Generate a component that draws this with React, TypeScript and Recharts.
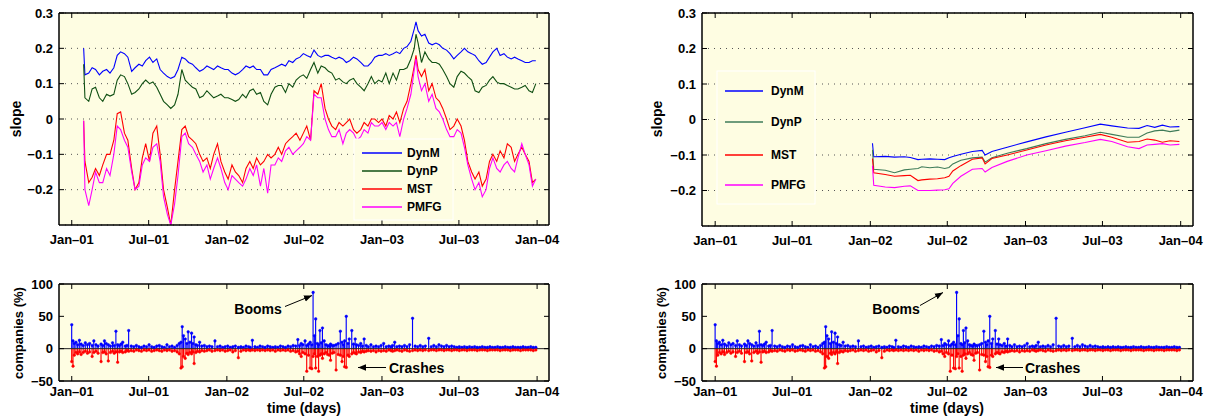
import React from "react";
import {
  ComposedChart,
  Line,
  Bar,
  XAxis,
  YAxis,
  CartesianGrid,
  ReferenceLine,
} from "recharts";

const FONT = "'Liberation Sans', Arial, Helvetica, sans-serif";
const BG = "#fefde2";
const BLUE = "#0000ff";
const RED = "#ff0000";
const MAGENTA = "#ff00ff";
const GREEN_L = "#0f4f12";
const GREEN_R = "#3e7b58";

// x axis is days since 1 Jan 2001
const monthTicks = [0, 181, 365, 546, 730, 911, 1095];
const monthLabels = ["Jan\u201301", "Jul\u201301", "Jan\u201302", "Jul\u201302", "Jan\u201303", "Jul\u201303", "Jan\u201304"];
const slopeTicks = [-0.2, -0.1, 0, 0.1, 0.2, 0.3];
const pctTicks = [-50, 0, 50, 100];
const seriesNames = ["DynM", "DynP", "MST", "PMFG"];

// top-left panel (sampled roughly every 8 days)
const slopeDays = [
  28, 31, 40, 48, 56, 65, 73, 82, 90, 99,
  107, 115, 124, 132, 141, 149, 158, 166, 174, 183,
  191, 200, 208, 216, 225, 233, 242, 250, 259, 267,
  275, 284, 292, 301, 309, 318, 326, 334, 343, 351,
  360, 368, 377, 385, 393, 402, 410, 419, 427, 435,
  444, 452, 461, 469, 478, 486, 494, 503, 511, 520,
  528, 537, 545, 553, 562, 570, 579, 587, 596, 604,
  612, 621, 629, 638, 646, 654, 663, 671, 680, 688,
  697, 705, 713, 722, 730, 739, 747, 756, 764, 772,
  781, 789, 798, 806, 810, 815, 823, 831, 840, 848,
  857, 865, 873, 882, 890, 899, 907, 916, 924, 932,
  941, 949, 958, 966, 975, 983, 991, 1000, 1008, 1017,
  1025, 1034, 1042, 1050, 1059, 1067, 1076, 1084, 1092,
];
const dynM = [
  0.2, 0.125, 0.13, 0.145, 0.14, 0.125, 0.135, 0.14, 0.13, 0.145,
  0.18, 0.19, 0.185, 0.175, 0.135, 0.145, 0.155, 0.15, 0.165, 0.175,
  0.16, 0.17, 0.14, 0.13, 0.12, 0.115, 0.12, 0.14, 0.175, 0.17,
  0.16, 0.155, 0.145, 0.135, 0.14, 0.15, 0.145, 0.14, 0.15, 0.145,
  0.14, 0.14, 0.13, 0.125, 0.13, 0.14, 0.15, 0.145, 0.15, 0.14,
  0.14, 0.125, 0.125, 0.14, 0.145, 0.15, 0.155, 0.15, 0.165, 0.16,
  0.17, 0.175, 0.185, 0.18, 0.175, 0.195, 0.18, 0.175, 0.18, 0.18,
  0.175, 0.17, 0.175, 0.17, 0.16, 0.165, 0.175, 0.17, 0.16, 0.15,
  0.15, 0.16, 0.175, 0.18, 0.18, 0.185, 0.18, 0.185, 0.19, 0.185,
  0.2, 0.205, 0.22, 0.255, 0.275, 0.25, 0.235, 0.24, 0.215, 0.21,
  0.215, 0.21, 0.2, 0.195, 0.185, 0.17, 0.18, 0.19, 0.2, 0.19,
  0.185, 0.18, 0.165, 0.155, 0.16, 0.175, 0.19, 0.2, 0.18, 0.185,
  0.175, 0.17, 0.175, 0.17, 0.165, 0.16, 0.16, 0.165, 0.165,
];
const dynP = [
  0.155, 0.06, 0.05, 0.085, 0.09, 0.06, 0.05, 0.07, 0.065, 0.07,
  0.11, 0.125, 0.12, 0.1, 0.07, 0.075, 0.085, 0.1, 0.11, 0.1,
  0.105, 0.09, 0.07, 0.05, 0.04, 0.03, 0.04, 0.07, 0.14, 0.11,
  0.1, 0.09, 0.085, 0.06, 0.065, 0.08, 0.07, 0.06, 0.065, 0.07,
  0.06, 0.06, 0.055, 0.05, 0.055, 0.07, 0.06, 0.08, 0.085, 0.07,
  0.075, 0.05, 0.04, 0.07, 0.09, 0.095, 0.095, 0.075, 0.1, 0.09,
  0.11, 0.12, 0.125, 0.115, 0.14, 0.16, 0.13, 0.15, 0.145, 0.135,
  0.13, 0.11, 0.115, 0.105, 0.1, 0.11, 0.115, 0.1, 0.09, 0.08,
  0.1, 0.12, 0.1, 0.11, 0.105, 0.13, 0.1, 0.13, 0.11, 0.14,
  0.14, 0.145, 0.17, 0.2, 0.24, 0.215, 0.16, 0.19, 0.17, 0.16,
  0.16, 0.155, 0.14, 0.12, 0.1, 0.09, 0.12, 0.135, 0.13, 0.12,
  0.11, 0.08, 0.075, 0.09, 0.095, 0.11, 0.12, 0.105, 0.1, 0.1,
  0.095, 0.09, 0.085, 0.085, 0.09, 0.095, 0.08, 0.075, 0.1,
];
const mst = [
  -0.005, -0.12, -0.18, -0.165, -0.14, -0.16, -0.13, -0.1, -0.1, -0.06,
  0.015, 0.02, -0.04, -0.06, -0.14, -0.2, -0.18, -0.11, -0.07, -0.12,
  -0.04, -0.02, -0.1, -0.2, -0.25, -0.3, -0.2, -0.12, -0.03, -0.02,
  -0.05, -0.06, -0.07, -0.1, -0.12, -0.11, -0.14, -0.1, -0.07, -0.12,
  -0.15, -0.17, -0.13, -0.15, -0.16, -0.18, -0.14, -0.12, -0.14, -0.11,
  -0.13, -0.12, -0.1, -0.11, -0.1, -0.08, -0.1, -0.07, -0.06, -0.05,
  -0.04, -0.06, -0.04, -0.02, -0.06, 0.08, 0.07, 0.1, 0.03, 0.0,
  -0.02, -0.03, -0.01, -0.02, -0.01, 0.0, -0.03, -0.04, -0.03, -0.01,
  -0.02, 0.0, 0.0, -0.01, 0.0, -0.02, 0.01, 0.0, 0.02, -0.01,
  0.03, 0.05, 0.1, 0.15, 0.18, 0.14, 0.12, 0.14, 0.08, 0.1,
  0.06, 0.05, 0.03, 0.0, -0.03, -0.02, 0.0, -0.02, -0.06, -0.12,
  -0.15, -0.17, -0.15, -0.19, -0.17, -0.12, -0.1, -0.12, -0.09, -0.11,
  -0.07, -0.08, -0.12, -0.1, -0.08, -0.1, -0.12, -0.18, -0.17,
];
const pmfg = [
  -0.005, -0.2, -0.245, -0.2, -0.15, -0.18, -0.18, -0.14, -0.16, -0.1,
  -0.02, -0.03, -0.06, -0.08, -0.15, -0.2, -0.19, -0.13, -0.11, -0.12,
  -0.08, -0.07, -0.12, -0.22, -0.27, -0.3, -0.24, -0.16, -0.05, -0.04,
  -0.07, -0.08, -0.1, -0.12, -0.15, -0.13, -0.17, -0.14, -0.11, -0.14,
  -0.18, -0.2, -0.16, -0.17, -0.18, -0.19, -0.17, -0.14, -0.16, -0.13,
  -0.19, -0.14, -0.21, -0.13, -0.13, -0.11, -0.12, -0.09, -0.08, -0.1,
  -0.09, -0.08, -0.07, -0.05, -0.06, 0.07, 0.06, 0.06, 0.0, -0.03,
  -0.05, -0.05, -0.03, -0.07, -0.04, -0.03, -0.04, -0.06, -0.05, -0.03,
  -0.04, -0.01, -0.02, -0.02, -0.01, -0.03, -0.01, -0.02, -0.01, -0.05,
  0.0, 0.03, 0.07, 0.14, 0.17, 0.12, 0.08, 0.1, 0.05, 0.07,
  0.03, 0.02, 0.0, -0.03, -0.05, -0.05, -0.03, -0.04, -0.08, -0.13,
  -0.17, -0.2, -0.18, -0.22, -0.2, -0.14, -0.11, -0.14, -0.15, -0.13,
  -0.12, -0.14, -0.15, -0.11, -0.07, -0.1, -0.13, -0.19, -0.17,
];

// top-right panel
const rDays = [370, 373, 400, 422, 445, 459, 477, 486, 505, 523, 540, 550, 559, 578, 605, 628, 635, 651, 687, 733, 778, 824, 870, 906, 933, 970, 997, 1016, 1034, 1052, 1070, 1092];
const rDynM = [-0.067, -0.105, -0.104, -0.106, -0.105, -0.107, -0.113, -0.112, -0.111, -0.112, -0.113, -0.108, -0.104, -0.098, -0.09, -0.087, -0.1, -0.09, -0.078, -0.063, -0.049, -0.036, -0.023, -0.013, -0.018, -0.024, -0.025, -0.017, -0.022, -0.016, -0.021, -0.02];
const rDynP = [-0.085, -0.14, -0.143, -0.15, -0.142, -0.14, -0.138, -0.133, -0.136, -0.134, -0.138, -0.135, -0.125, -0.115, -0.108, -0.106, -0.12, -0.108, -0.095, -0.082, -0.068, -0.056, -0.046, -0.036, -0.042, -0.05, -0.05, -0.038, -0.032, -0.03, -0.034, -0.03];
const rMst = [-0.11, -0.15, -0.155, -0.16, -0.158, -0.157, -0.172, -0.17, -0.168, -0.167, -0.164, -0.16, -0.145, -0.13, -0.112, -0.108, -0.125, -0.11, -0.1, -0.086, -0.072, -0.06, -0.05, -0.042, -0.05, -0.064, -0.062, -0.055, -0.058, -0.064, -0.06, -0.062];
const rPmfg = [-0.13, -0.185, -0.19, -0.192, -0.188, -0.187, -0.2, -0.2, -0.2, -0.199, -0.198, -0.195, -0.18, -0.16, -0.14, -0.138, -0.148, -0.135, -0.118, -0.1, -0.088, -0.075, -0.065, -0.056, -0.062, -0.077, -0.082, -0.072, -0.07, -0.068, -0.072, -0.07];

// bottom panels: booms / crashes (% of companies)
const stemDays = [
  0, 3, 6, 10, 14, 18, 22, 27, 32, 37,
  42, 48, 52, 57, 62, 69, 73, 77, 81, 86,
  91, 96, 100, 104, 108, 112, 116, 120, 126, 130,
  134, 140, 146, 152, 158, 164, 170, 176, 182, 188,
  194, 200, 206, 212, 218, 224, 230, 236, 242, 248,
  253, 257, 260, 263, 267, 271, 274, 278, 282, 285,
  288, 292, 296, 301, 306, 312, 318, 324, 330, 337,
  343, 349, 355, 361, 367, 373, 379, 385, 392, 398,
  404, 410, 416, 420, 425, 431, 437, 443, 449, 455,
  461, 467, 473, 479, 485, 491, 497, 503, 509, 515,
  521, 527, 532, 536, 540, 544, 549, 553, 557, 561,
  565, 568, 571, 574, 578, 581, 584, 587, 590, 594,
  598, 602, 606, 609, 613, 617, 622, 627, 632, 636,
  639, 642, 646, 650, 653, 659, 663, 667, 670, 675,
  680, 684, 688, 693, 698, 704, 710, 716, 722, 728,
  734, 740, 746, 751, 755, 760, 765, 771, 777, 783,
  789, 795, 802, 808, 814, 820, 826, 832, 840, 846,
  852, 858, 864, 870, 876, 882, 888, 894, 900, 906,
  912, 918, 924, 930, 936, 942, 948, 954, 960, 966,
  972, 978, 984, 990, 996, 1002, 1008, 1014, 1020, 1026,
  1032, 1038, 1044, 1050, 1056, 1062, 1068, 1074, 1080, 1086,
  1092,
];
const boomPct = [
  37, 12, 8, 10, 6, 13, 7, 5, 9, 6,
  8, 5, 12, 6, 4, 7, 5, 12, 8, 6,
  4, 9, 5, 27, 6, 5, 7, 10, 4, 5,
  28, 4, 3, 5, 3, 2, 4, 3, 6, 3,
  2, 4, 5, 3, 2, 6, 3, 4, 2, 5,
  8, 10, 34, 20, 15, 8, 26, 10, 24, 8,
  18, 6, 5, 10, 4, 5, 3, 4, 3, 12,
  3, 4, 2, 3, 4, 2, 3, 4, 2, 3,
  2, 4, 3, 2, 13, 3, 2, 4, 3, 2,
  4, 3, 2, 3, 2, 4, 3, 2, 4, 3,
  5, 4, 14, 5, 8, 6, 12, 5, 7, 10,
  6, 87, 20, 46, 8, 6, 28, 9, 32, 12,
  6, 5, 4, 7, 5, 5, 6, 8, 27, 10,
  6, 12, 50, 8, 15, 28, 7, 15, 6, 5,
  8, 4, 15, 5, 3, 6, 3, 4, 3, 5,
  8, 3, 4, 3, 5, 10, 3, 4, 3, 5,
  3, 6, 47, 4, 3, 5, 3, 4, 16, 3,
  5, 3, 6, 4, 3, 5, 3, 4, 3, 2,
  3, 2, 3, 2, 3, 2, 3, 2, 2, 3,
  2, 2, 3, 2, 2, 3, 2, 2, 3, 2,
  2, 3, 2, 2, 2, 3, 2, 2, 3, 2,
  2,
];
const crashPct = [
  -20, -27, -10, -6, -8, -5, -9, -6, -4, -7,
  -5, -12, -6, -4, -7, -20, -6, -5, -8, -19,
  -6, -4, -7, -5, -21, -5, -4, -6, -5, -3,
  -4, -3, -4, -2, -3, -4, -2, -3, -2, -4,
  -3, -2, -3, -4, -2, -3, -2, -4, -3, -5,
  -8, -30, -28, -12, -15, -7, -9, -6, -8, -5,
  -23, -6, -4, -5, -3, -4, -3, -2, -4, -3,
  -2, -3, -2, -4, -3, -2, -5, -3, -14, -4,
  -2, -3, -2, -3, -2, -3, -2, -3, -2, -3,
  -2, -3, -2, -4, -2, -3, -2, -3, -2, -4,
  -3, -5, -4, -8, -12, -6, -8, -35, -10, -30,
  -31, -12, -8, -30, -12, -35, -10, -8, -15, -8,
  -6, -9, -10, -18, -7, -6, -33, -9, -10, -20,
  -12, -28, -29, -10, -12, -8, -6, -7, -8, -5,
  -6, -4, -5, -4, -3, -4, -3, -5, -3, -4,
  -3, -4, -2, -3, -4, -3, -2, -3, -4, -2,
  -3, -4, -3, -2, -3, -2, -3, -2, -3, -2,
  -2, -3, -2, -2, -3, -2, -2, -3, -2, -2,
  -3, -2, -2, -3, -2, -2, -2, -3, -2, -2,
  -2, -3, -2, -2, -2, -2, -3, -2, -2, -2,
  -3, -2, -2, -2, -3, -2, -2, -2, -2, -3,
  -2,
];

const leftRows = slopeDays.map((d, i) => ({ day: d, DynM: dynM[i], DynP: dynP[i], MST: mst[i], PMFG: pmfg[i] }));
const rightRows = rDays.map((d, i) => ({ day: d, DynM: rDynM[i], DynP: rDynP[i], MST: rMst[i], PMFG: rPmfg[i] }));
const stemRows = stemDays.map((d, i) => ({ day: d, boom: boomPct[i], crash: crashPct[i] }));

const txt: any = { fontFamily: FONT, fontWeight: 700, fill: "#000" };
const fmtNum = (v: number) => (v < 0 ? "\u2212" + String(-v) : String(v));

function BottomTick(props: any) {
  const { x, y, payload, off } = props;
  const i = monthTicks.indexOf(payload.value);
  return (
    <g>
      <line x1={x} x2={x} y1={y} y2={y - 5} stroke="#000" strokeWidth={1} />
      <text x={x} y={y + off} textAnchor="middle" fontSize={13} style={txt}>
        {monthLabels[i]}
      </text>
    </g>
  );
}
function TopTick(props: any) {
  const { x, y } = props;
  return <line x1={x} x2={x} y1={y} y2={y + 5} stroke="#000" strokeWidth={1} />;
}
function LeftTick(props: any) {
  const { x, y, payload } = props;
  return (
    <g>
      <line x1={x} x2={x + 5} y1={y} y2={y} stroke="#000" strokeWidth={1} />
      <text x={x - 6} y={y + 4.5} textAnchor="end" fontSize={13} style={txt}>
        {fmtNum(payload.value)}
      </text>
    </g>
  );
}
function RightTick(props: any) {
  const { x, y } = props;
  return <line x1={x} x2={x - 5} y1={y} y2={y} stroke="#000" strokeWidth={1} />;
}

// box-style axes; pads are the room each axis takes outside the plot
function frame(xDomain: number[], yDomain: number[], yTicks: number[], off: number, pads: number[]) {
  const axisLine = { stroke: "#000", strokeWidth: 1.5 };
  const common: any = { type: "number", allowDataOverflow: true, interval: 0, tickSize: 0, tickMargin: 0, tickLine: false, axisLine };
  return [
    <XAxis key="xb" xAxisId="b" dataKey="day" domain={xDomain} ticks={monthTicks} height={pads[0]} tick={<BottomTick off={off} />} {...common} />,
    <XAxis key="xt" xAxisId="t" dataKey="day" orientation="top" domain={xDomain} ticks={monthTicks} height={pads[1]} tick={<TopTick />} {...common} />,
    <YAxis key="yl" yAxisId="l" domain={yDomain} ticks={yTicks} width={pads[2]} tick={<LeftTick />} {...common} />,
    <YAxis key="yr" yAxisId="r" orientation="right" domain={yDomain} ticks={yTicks} width={pads[3]} tick={<RightTick />} {...common} />,
  ];
}

function SlopePanel({ rows, colors, box, margin, pads, xDomain }: any) {
  return (
    <div style={{ position: "absolute", left: box[0], top: box[1] }}>
      <ComposedChart width={box[2]} height={box[3]} data={rows} margin={margin}>
        <CartesianGrid xAxisId="b" yAxisId="l" vertical={false} stroke="#555" strokeDasharray="1 5" fill={BG} fillOpacity={1} />
        {seriesNames.map((k, i) => (
          <Line key={k} xAxisId="b" yAxisId="l" type="linear" dataKey={k} stroke={colors[i]} strokeWidth={1.1} dot={false} isAnimationActive={false} />
        ))}
        {frame(xDomain, [-0.3, 0.3], slopeTicks, 19, pads)}
      </ComposedChart>
    </div>
  );
}

function StemPanel({ box, margin, pads, xDomain }: any) {
  return (
    <div style={{ position: "absolute", left: box[0], top: box[1] }}>
      <ComposedChart width={box[2]} height={box[3]} data={stemRows} margin={margin} stackOffset="sign" barSize={2}>
        <CartesianGrid xAxisId="b" yAxisId="l" vertical={false} horizontal={false} fill={BG} fillOpacity={1} />
        <ReferenceLine xAxisId="b" yAxisId="l" y={0} stroke="#222" strokeWidth={1} />
        <Bar xAxisId="b" yAxisId="l" dataKey="boom" stackId="s" fill={BLUE} isAnimationActive={false} />
        <Bar xAxisId="b" yAxisId="l" dataKey="crash" stackId="s" fill={RED} isAnimationActive={false} />
        <Line xAxisId="b" yAxisId="l" dataKey="boom" stroke="none" dot={{ r: 1.3, fill: BLUE, stroke: BLUE, strokeWidth: 0.5 }} isAnimationActive={false} />
        <Line xAxisId="b" yAxisId="l" dataKey="crash" stroke="none" dot={{ r: 1.3, fill: RED, stroke: RED, strokeWidth: 0.5 }} isAnimationActive={false} />
        {frame(xDomain, [-50, 100], pctTicks, 15, pads)}
      </ComposedChart>
    </div>
  );
}

function LegendBox({ x, y, w, h, rows, colors, lineX, textX }: any) {
  return (
    <g>
      <rect x={x} y={y} width={w} height={h} fill={BG} stroke="#ffffff" strokeWidth={1} />
      {seriesNames.map((n, i) => (
        <g key={n}>
          <line x1={lineX[0]} x2={lineX[1]} y1={rows[i]} y2={rows[i]} stroke={colors[i]} strokeWidth={1.3} />
          <text x={textX} y={rows[i] + 4.3} fontSize={12} style={txt}>
            {n}
          </text>
        </g>
      ))}
    </g>
  );
}

export default function App() {
  const leftColors = [BLUE, GREEN_L, RED, MAGENTA];
  const rightColors = [BLUE, GREEN_R, RED, MAGENTA];
  // pads: [bottom axis height, top axis height, left axis width, right axis width]
  return (
    <div style={{ position: "absolute", left: 0, top: 0, width: 1208, height: 419, background: "#fff", overflow: "hidden" }}>
      <SlopePanel rows={leftRows} colors={leftColors} box={[0, 0, 560, 250]} margin={{ top: 12, left: 4, right: 10, bottom: 0 }} pads={[25, 1, 55, 1]} xDomain={[-30, 1123]} />
      <SlopePanel rows={rightRows} colors={rightColors} box={[640, 0, 568, 250]} margin={{ top: 12, left: 7, right: 14, bottom: 0 }} pads={[24, 1, 55, 1]} xDomain={[-31, 1124]} />
      <StemPanel box={[0, 270, 560, 149]} margin={{ top: 13, left: 4, right: 10, bottom: 0 }} pads={[38, 1, 55, 1]} xDomain={[-30, 1123]} />
      <StemPanel box={[640, 270, 568, 149]} margin={{ top: 13, left: 7, right: 14, bottom: 0 }} pads={[38, 1, 55, 1]} xDomain={[-31, 1124]} />
      <svg width={1208} height={419} style={{ position: "absolute", left: 0, top: 0, pointerEvents: "none" }}>
        <defs>
          <marker id="ah" viewBox="0 0 10 10" refX="10" refY="5" markerWidth="8" markerHeight="8" orient="auto">
            <path d="M0,1 L10,5 L0,9 Z" fill="#000" />
          </marker>
        </defs>
        <LegendBox x={354} y={139} w={99} h={81} rows={[153, 171, 189, 207]} colors={leftColors} lineX={[362, 402]} textX={407} />
        <LegendBox x={717} y={71} w={98} h={133} rows={[91, 122, 155, 185]} colors={rightColors} lineX={[725, 763]} textX={771} />

        <text transform="translate(16,119) rotate(-90)" textAnchor="middle" dy="0.35em" fontSize={14} style={txt}>slope</text>
        <text transform="translate(657,119) rotate(-90)" textAnchor="middle" dy="0.35em" fontSize={14} style={txt}>slope</text>
        <text transform="translate(18,333) rotate(-90)" textAnchor="middle" dy="0.35em" fontSize={13} style={txt}>companies (%)</text>
        <text transform="translate(661,333) rotate(-90)" textAnchor="middle" dy="0.35em" fontSize={13} style={txt}>companies (%)</text>
        <text x={304} y={413} textAnchor="middle" fontSize={14} style={txt}>time (days)</text>
        <text x={947} y={413} textAnchor="middle" fontSize={14} style={txt}>time (days)</text>

        <text x={258} y={314} textAnchor="middle" fontSize={14} style={txt}>Booms</text>
        <line x1={285} y1={306.5} x2={312} y2={295.5} stroke="#000" strokeWidth={1} markerEnd="url(#ah)" />
        <text x={389} y={372.5} fontSize={14} style={txt}>Crashes</text>
        <line x1={386} y1={367.5} x2={358} y2={367.5} stroke="#000" strokeWidth={1} markerEnd="url(#ah)" />

        <text x={896} y={314} textAnchor="middle" fontSize={14} style={txt}>Booms</text>
        <line x1={920} y1={305.5} x2={943} y2={292.5} stroke="#000" strokeWidth={1} markerEnd="url(#ah)" />
        <text x={1025} y={372.5} fontSize={14} style={txt}>Crashes</text>
        <line x1={1023} y1={367.5} x2={996} y2={367.5} stroke="#000" strokeWidth={1} markerEnd="url(#ah)" />
      </svg>
    </div>
  );
}
